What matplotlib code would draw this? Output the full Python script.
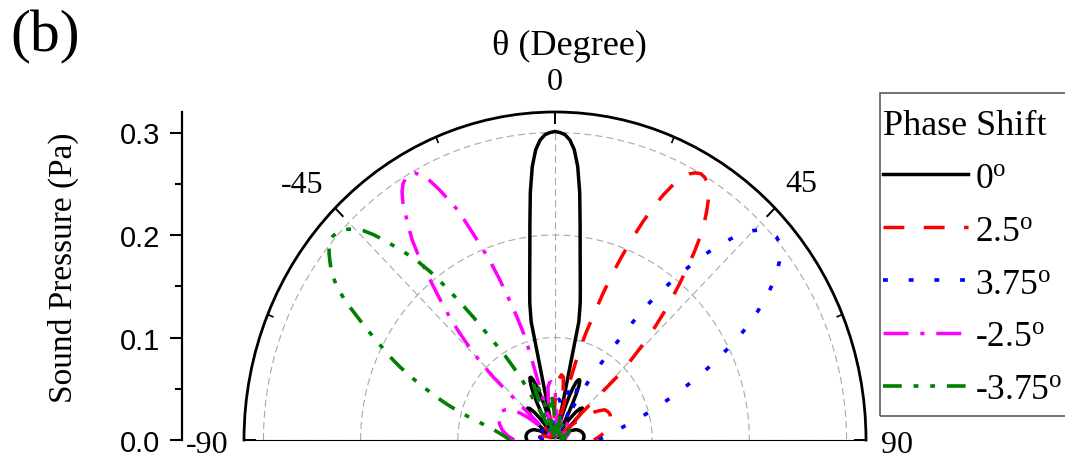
import numpy as np
import matplotlib
matplotlib.use("Agg")
import matplotlib.pyplot as plt
from matplotlib.patches import Rectangle
from matplotlib.ticker import MultipleLocator

plt.rcParams["font.family"] = ["Liberation Serif", "DejaVu Serif"]
plt.rcParams["mathtext.fontset"] = "custom"
plt.rcParams["mathtext.rm"] = "Liberation Serif"
plt.rcParams["mathtext.it"] = "Liberation Serif:italic"
plt.rcParams["mathtext.bf"] = "Liberation Serif:bold"
plt.rcParams["lines.scale_dashes"] = False

# ---------------- data: beam patterns (angle in degrees, pressure in Pa) ----------------
SERIES_LABELS = ["0$^{\\mathrm{o}}$", "2.5$^{\\mathrm{o}}$", "3.75$^{\\mathrm{o}}$",
                 "-2.5$^{\\mathrm{o}}$", "-3.75$^{\\mathrm{o}}$"]

BLACK_THETA = [-90, -85, -80, -75, -70, -65, -60, -57, -54, -52, -50, -48, -46, -44, -42, -40,
               -38, -36, -34, -32, -30, -29, -28, -27, -26, -25, -24, -23, -22, -21, -20, -19,
               -18, -17, -16, -15, -14, -13, -12, -11, -10, -9, -8, -7, -6, -5, -4, -3, -2, -1,
               0, 1, 2, 3, 4, 5, 6, 7, 8, 9, 10, 11, 12, 13, 14, 15, 16, 17, 18, 19, 20, 21,
               22, 23, 24, 25, 26, 27, 28, 29, 30, 32, 34, 36, 38, 40, 42, 44, 46, 48, 50, 52,
               54, 57, 60, 65, 70, 75, 80, 85, 90]
BLACK_R = [0.029, 0.030, 0.030, 0.029, 0.027, 0.024, 0.018, 0.011, 0.004, 0.006, 0.015, 0.026,
           0.035, 0.040, 0.042, 0.040, 0.034, 0.025, 0.014, 0.004, 0.008, 0.018, 0.030, 0.041,
           0.051, 0.058, 0.063, 0.066, 0.066, 0.063, 0.057, 0.048, 0.037, 0.024, 0.011, 0.003,
           0.004, 0.025, 0.118, 0.136, 0.150, 0.166, 0.186, 0.212, 0.243, 0.268, 0.284, 0.293,
           0.298, 0.300, 0.301, 0.300, 0.298, 0.293, 0.284, 0.268, 0.243, 0.212, 0.186, 0.166,
           0.150, 0.136, 0.118, 0.025, 0.004, 0.004, 0.012, 0.024, 0.036, 0.046, 0.054, 0.060,
           0.063, 0.064, 0.063, 0.058, 0.050, 0.040, 0.029, 0.018, 0.008, 0.004, 0.014, 0.025,
           0.034, 0.040, 0.042, 0.040, 0.035, 0.026, 0.015, 0.006, 0.004, 0.011, 0.018, 0.024,
           0.027, 0.029, 0.030, 0.030, 0.029]

RED_THETA = [-90, -80, -70, -62, -55, -48, -42, -36, -31, -26, -20, -15, -10, -6, -3,
             0, 2, 4, 6, 8, 10, 12, 13, 14,
             15, 16, 17, 18, 19, 20, 21, 22, 23, 24, 25, 26, 27, 28, 29, 30, 31, 32, 33, 34,
             35, 36, 37, 38, 39, 40, 41, 42, 43, 44, 45, 46, 47, 48, 49, 50,
             52, 54, 56, 58, 60, 63, 66, 70, 75, 80, 85, 90]
RED_R = [0.012, 0.016, 0.013, 0.005, 0.015, 0.022, 0.020, 0.010, 0.004, 0.018, 0.028, 0.026,
         0.014, 0.004, 0.018,
         0.038, 0.052, 0.060, 0.064, 0.062, 0.048, 0.022, 0.008, 0.006,
         0.060, 0.092, 0.110, 0.128, 0.150, 0.172, 0.192, 0.212, 0.231, 0.249, 0.264, 0.277,
         0.287, 0.294, 0.298, 0.300, 0.299, 0.296, 0.290, 0.282, 0.272, 0.261, 0.248, 0.233,
         0.216, 0.200, 0.184, 0.168, 0.151, 0.133, 0.112, 0.088, 0.014, 0.008, 0.016, 0.024,
         0.034, 0.042, 0.049, 0.054, 0.059, 0.061, 0.062, 0.061, 0.058, 0.054, 0.047, 0.040]

BLUE_THETA = [-90, -80, -72, -65, -58, -50, -44, -38, -33, -28, -22, -17, -12, -8, -5, -2,
              1, 4, 6, 8, 10, 12, 13, 14, 15, 16, 17, 18, 20, 22, 24, 26, 27, 28, 29,
              30, 31, 32, 33, 34, 35, 36, 37, 38, 39, 40, 41, 42, 43, 44, 45, 46, 47, 48, 49,
              50, 51, 52, 53, 54, 55, 56, 57, 58, 59, 60, 61, 62, 63, 64, 65, 66, 67, 68, 69,
              70, 71, 72, 73, 74, 75, 76, 77, 78, 79, 80, 82, 84, 86, 88, 90]
BLUE_R = [0.012, 0.016, 0.010, 0.004, 0.014, 0.020, 0.018, 0.008, 0.006, 0.016, 0.024, 0.026,
          0.020, 0.010, 0.004, 0.012,
          0.026, 0.036, 0.040, 0.038, 0.028, 0.012, 0.006, 0.024, 0.036, 0.045, 0.051, 0.056,
          0.061, 0.062, 0.058, 0.047, 0.037, 0.022, 0.008,
          0.040, 0.068, 0.084, 0.098, 0.120, 0.144, 0.166, 0.183, 0.199, 0.215, 0.231, 0.246,
          0.259, 0.271, 0.281, 0.289, 0.295, 0.299, 0.301, 0.302,
          0.301, 0.298, 0.294, 0.289, 0.283, 0.276, 0.269, 0.261, 0.252, 0.243, 0.233, 0.224,
          0.214, 0.203, 0.192, 0.182, 0.172, 0.162, 0.152, 0.142,
          0.133, 0.125, 0.117, 0.110, 0.103, 0.096, 0.090, 0.084, 0.079, 0.074, 0.070, 0.063,
          0.057, 0.052, 0.048, 0.045]

MAGENTA_THETA = [-90, -85, -80, -75, -70, -66, -63, -60, -58, -56, -54, -52, -50, -49, -48, -47,
                 -46, -45, -44, -43, -42, -41, -40, -39, -38, -37, -36, -35, -34, -33, -32, -31,
                 -30, -29, -28, -27, -26, -25, -24, -23, -22, -21, -20, -19, -18, -17, -16, -15,
                 -14, -12, -10, -8, -6, -4, -2, 0, 2, 4, 6, 9, 13, 17, 21, 25, 30, 36, 42, 48,
                 55, 65, 75, 90]
MAGENTA_R = [0.042, 0.049, 0.055, 0.059, 0.062, 0.063, 0.062, 0.059, 0.056, 0.051, 0.045, 0.037,
             0.026, 0.016, 0.008, 0.014,
             0.090, 0.112, 0.130, 0.147, 0.163, 0.178, 0.193, 0.210, 0.228, 0.244, 0.256, 0.268,
             0.280, 0.289, 0.295, 0.298,
             0.299, 0.298, 0.292, 0.284, 0.272, 0.258, 0.245, 0.224, 0.205, 0.188, 0.167, 0.145,
             0.125, 0.104, 0.015, 0.008,
             0.006, 0.022, 0.040, 0.052, 0.056, 0.057, 0.055, 0.048, 0.034, 0.018, 0.005, 0.016,
             0.026, 0.024, 0.012, 0.004, 0.016, 0.022, 0.018, 0.008,
             0.012, 0.016, 0.012, 0.010]

GREEN_THETA = [-90, -88, -86, -84, -82, -80, -79, -78, -77, -76, -75, -74, -73, -72, -71, -70,
               -69, -68, -67, -66, -65, -64, -63, -62, -61, -60, -59, -58, -57, -56, -55, -54,
               -53, -52, -51, -50, -49, -48, -47, -46, -45, -44, -43, -42, -41, -40, -39, -38,
               -37, -36, -35, -34, -33, -32, -31, -30, -29, -28, -27, -26, -25, -24, -23, -22,
               -21, -20, -19, -18, -17, -16, -15, -14, -13, -12, -10, -8, -6, -4, -2, 0,
               2, 5, 9, 13, 17, 20, 25, 31, 37, 42, 47, 55, 65, 75, 82, 90]
GREEN_R = [0.046, 0.049, 0.052, 0.056, 0.061, 0.067, 0.071, 0.077, 0.083, 0.090, 0.097, 0.105,
           0.113, 0.121, 0.129, 0.137,
           0.146, 0.155, 0.164, 0.174, 0.183, 0.192, 0.200, 0.209, 0.220, 0.230, 0.241, 0.253,
           0.263, 0.272, 0.279, 0.285,
           0.290, 0.295, 0.299, 0.302, 0.303, 0.302, 0.300, 0.296, 0.291, 0.284, 0.274, 0.262,
           0.249, 0.237, 0.224, 0.208,
           0.188, 0.166, 0.146, 0.125, 0.110, 0.097, 0.082, 0.066, 0.044, 0.020, 0.006, 0.014,
           0.026, 0.038, 0.050, 0.058,
           0.062, 0.062, 0.058, 0.050, 0.040, 0.028, 0.016, 0.006, 0.004, 0.012, 0.030, 0.042,
           0.045, 0.040, 0.028, 0.014,
           0.004, 0.018, 0.026, 0.022, 0.010, 0.004, 0.014, 0.020, 0.016, 0.006, 0.012, 0.018,
           0.014, 0.006, 0.010, 0.012]

R_TICKS = [0.0, 0.1, 0.2, 0.3]
R_TICK_LABELS = ["0.0", "0.1", "0.2", "0.3"]
THETA_TICKS = [-90, -45, 0, 45, 90]
THETA_TICK_LABELS = ["-90", "-45", "0", "45", "90"]
THETA_MINOR = [-67.5, -22.5, 22.5, 67.5]
GRID_R = [0.1, 0.2, 0.3]
R_MAX = 0.32

for th, rr in [(BLACK_THETA, BLACK_R), (RED_THETA, RED_R), (BLUE_THETA, BLUE_R),
               (MAGENTA_THETA, MAGENTA_R), (GREEN_THETA, GREEN_R)]:
    assert len(th) == len(rr)

# ---------------- figure layout (pixel based) ----------------
W, H = 1065, 460
fig = plt.figure(figsize=(W / 100, H / 100), dpi=100)


def fx(px):
    return px / W


def fy(py):
    return 1 - py / H


CX, BASE_Y = 555, 441          # pole position
RX, RY = 311, 328              # horizontal / vertical extent of the outer arc

# the half-disc occupies the middle half of a polar axes box
ax = fig.add_axes([fx(CX - RX), fy(BASE_Y + RY / 2), 2 * RX / W, 2 * RY / H],
                  projection="polar")
ax.set_theta_zero_location("N")
ax.set_theta_direction(-1)
ax.set_thetamin(-90)
ax.set_thetamax(90)
ax.set_rlim(0, R_MAX)
ax.set_aspect("auto")
ax.grid(False)
ax.set_yticks([])
ax.set_xticks([])
ax.spines["polar"].set_linewidth(2.0)
ax.spines["polar"].set_color("black")
for key in ("start", "end", "inner"):
    if key in ax.spines:
        ax.spines[key].set_visible(False)

# dashed grid: circles and spokes
grid_kw = dict(color="#a8a8a8", lw=0.8, ls=(0, (5, 3)), zorder=1)
arc = np.linspace(-np.pi / 2, np.pi / 2, 361)
for rr in GRID_R:
    ax.plot(arc, np.full_like(arc, rr), **grid_kw)
for t in THETA_TICKS:
    ax.plot([np.deg2rad(t)] * 2, [0, GRID_R[-1]], **grid_kw)

# inward ticks on the outer arc
for t in THETA_TICKS:
    ax.plot([np.deg2rad(t)] * 2, [R_MAX - 0.012, R_MAX], color="black", lw=1.4,
            solid_capstyle="butt", zorder=2, clip_on=False)
for t in THETA_MINOR:
    ax.plot([np.deg2rad(t)] * 2, [R_MAX - 0.0065, R_MAX], color="black", lw=1.2,
            solid_capstyle="butt", zorder=2, clip_on=False)

# beam patterns
styles = [
    dict(color="black", ls="-", lw=2.5),
    dict(color="#ff0000", ls=(0, (15, 14)), lw=2.5),
    dict(color="#0000ff", ls=(0, (3.5, 15)), lw=2.6),
    dict(color="#ff00ff", ls=(0, (18, 8.5, 3, 8.5)), lw=2.5),
    dict(color="#008000", ls=(0, (13.5, 8.5, 3.5, 8.5, 3.5, 8.5)), lw=2.6),
]
series = [(BLACK_THETA, BLACK_R), (RED_THETA, RED_R), (BLUE_THETA, BLUE_R),
          (MAGENTA_THETA, MAGENTA_R), (GREEN_THETA, GREEN_R)]
handles = []
for (th, rr), st, lab in zip(series, styles, SERIES_LABELS):
    ln, = ax.plot(np.deg2rad(th), rr, label=lab, zorder=3, **st)
    handles.append(ln)

# angle labels
angle_pos = {"-90": (207, 453), "-45": (302, 193), "0": (555, 90), "45": (801, 192),
             "90": (897, 453)}
for lab in THETA_TICK_LABELS:
    x, y = angle_pos[lab]
    fig.text(fx(x), fy(y), lab, ha="center", va="baseline", fontsize=23)
fig.text(fx(569), fy(46), "θ (Degree)", ha="center", va="center", fontsize=26)

# left pressure scale
axL = fig.add_axes([fx(182), fy(BASE_Y), 0.0001, RY / H])
axL.set_ylim(0, R_MAX)
for s in ("top", "right", "bottom"):
    axL.spines[s].set_visible(False)
axL.spines["left"].set_linewidth(1.6)
axL.patch.set_visible(False)
axL.set_xticks([])
axL.set_yticks(R_TICKS)
axL.set_yticklabels(R_TICK_LABELS, family="Liberation Sans")
axL.yaxis.set_minor_locator(MultipleLocator(0.05))
axL.tick_params(axis="y", which="major", direction="out", length=8.5, width=1.5, pad=7,
                labelsize=21)
axL.tick_params(axis="y", which="minor", direction="out", length=5, width=1.5)
fig.text(fx(63), fy(268), "Sound Pressure (Pa)", rotation=90, ha="center", va="center",
         fontsize=24)

fig.text(fx(45), fy(37), "(b)", ha="center", va="center", fontsize=43)

# legend: content placed without its own frame, box drawn separately
leg = fig.legend(handles=handles, loc="upper left", bbox_to_anchor=(fx(883), fy(110)),
                 bbox_transform=fig.transFigure, title="Phase Shift", fontsize=25.5,
                 title_fontsize=26, frameon=False, borderaxespad=0, borderpad=0,
                 handlelength=2.4, handletextpad=0.2, labelspacing=0.56, alignment="left")
fig.patches.append(Rectangle((fx(880), fy(417)), fx(1090) - fx(880), (417 - 94) / H,
                             transform=fig.transFigure, fill=False, edgecolor="0.35",
                             lw=1.2, zorder=5))

fig.savefig("out.png", dpi=100)
